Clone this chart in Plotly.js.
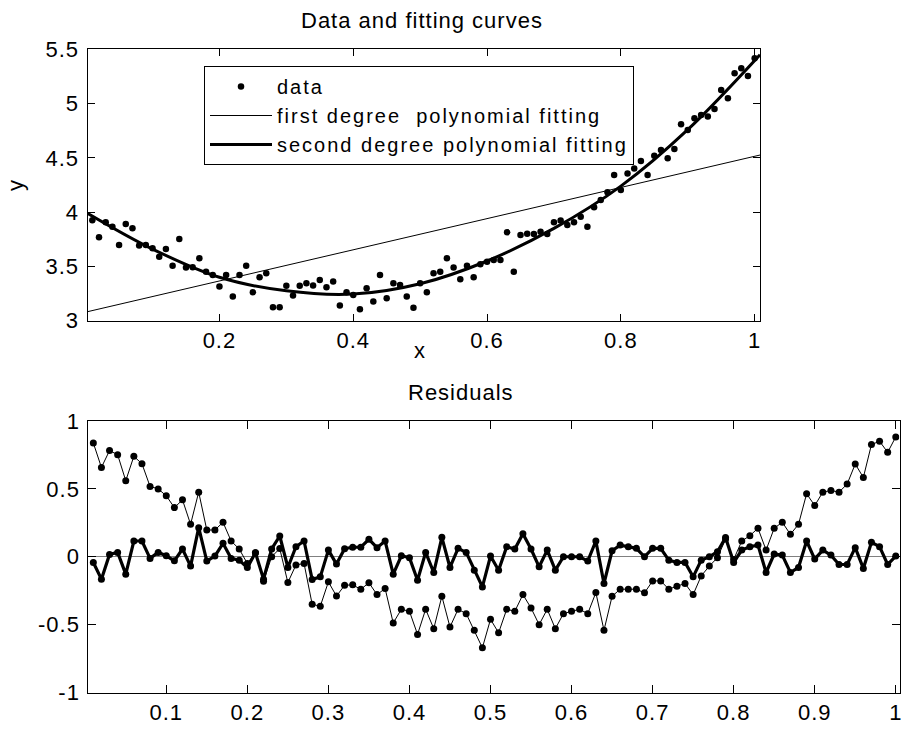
<!DOCTYPE html>
<html>
<head>
<meta charset="utf-8">
<script src="https://cdn.plot.ly/plotly-3.0.1.min.js"></script>
<style>
  html, body { margin: 0; padding: 0; background: #fff; }
  text { letter-spacing: 1px; }
  text.legendtext { letter-spacing: 2px; }
</style>
</head>
<body>
<div id="chart" style="width:901px;height:729px;"></div>
<script>
// ---- data ----
var xVals = [0.01,0.02,0.03,0.04,0.05,0.06,0.07,0.08,0.09,0.10,
             0.11,0.12,0.13,0.14,0.15,0.16,0.17,0.18,0.19,0.20,
             0.21,0.22,0.23,0.24,0.25,0.26,0.27,0.28,0.29,0.30,
             0.31,0.32,0.33,0.34,0.35,0.36,0.37,0.38,0.39,0.40,
             0.41,0.42,0.43,0.44,0.45,0.46,0.47,0.48,0.49,0.50,
             0.51,0.52,0.53,0.54,0.55,0.56,0.57,0.58,0.59,0.60,
             0.61,0.62,0.63,0.64,0.65,0.66,0.67,0.68,0.69,0.70,
             0.71,0.72,0.73,0.74,0.75,0.76,0.77,0.78,0.79,0.80,
             0.81,0.82,0.83,0.84,0.85,0.86,0.87,0.88,0.89,0.90,
             0.91,0.92,0.93,0.94,0.95,0.96,0.97,0.98,0.99,1.00];

var yData = [3.925,3.768,3.906,3.866,3.698,3.891,3.851,3.692,3.698,3.667,
             3.590,3.661,3.507,3.752,3.489,3.492,3.575,3.452,3.421,3.314,
             3.421,3.222,3.421,3.507,3.262,3.400,3.437,3.125,3.125,3.321,
             3.232,3.321,3.345,3.325,3.375,3.308,3.360,3.139,3.262,3.237,
             3.105,3.298,3.176,3.421,3.206,3.344,3.329,3.222,3.120,3.344,
             3.262,3.437,3.452,3.575,3.489,3.382,3.507,3.400,3.519,3.544,
             3.559,3.559,3.814,3.452,3.790,3.802,3.799,3.820,3.799,3.906,
             3.922,3.882,3.906,3.958,3.866,4.044,4.112,4.183,4.342,4.204,
             4.357,4.403,4.470,4.342,4.520,4.572,4.496,4.582,4.809,4.757,
             4.864,4.895,4.880,4.950,5.125,5.048,5.279,5.325,5.254,5.417];

// first degree fit (straight line, read at the axis edges)
var linFitX = [0.0028, 1.008];
var linFitY = [3.083, 4.526];

// second degree fit
var quadFitX = [0.0028,0.1,0.2,0.3,0.4,0.5,0.6,0.7,0.8,0.9,1.008];
var quadFitY = [3.99,3.66,3.40,3.275,3.245,3.34,3.55,3.85,4.24,4.76,5.45];

// residuals of the first degree fit (thin line)
var resLin = [0.838,0.658,0.782,0.752,0.560,0.740,0.685,0.518,0.500,0.449,
              0.362,0.419,0.239,0.476,0.197,0.197,0.254,0.116,0.057,-0.050,
              0.030,-0.180,0.000,0.060,-0.190,-0.060,-0.050,-0.350,-0.365,-0.185,
              -0.290,-0.210,-0.207,-0.240,-0.192,-0.279,-0.234,-0.488,-0.387,-0.402,
              -0.572,-0.387,-0.530,-0.291,-0.518,-0.387,-0.419,-0.542,-0.671,-0.461,
              -0.560,-0.387,-0.402,-0.279,-0.377,-0.500,-0.387,-0.530,-0.419,-0.402,
              -0.387,-0.419,-0.264,-0.542,-0.291,-0.239,-0.239,-0.239,-0.266,-0.178,
              -0.178,-0.239,-0.217,-0.197,-0.279,-0.141,-0.069,-0.007,0.130,-0.020,
              0.116,0.155,0.210,0.049,0.210,0.254,0.165,0.239,0.464,0.377,
              0.476,0.488,0.476,0.535,0.683,0.584,0.826,0.851,0.769,0.883];

// residuals of the second degree fit (thick line)
var resQuad = [-0.042,-0.165,0.017,0.032,-0.128,0.116,0.116,-0.012,0.032,0.007,
               -0.030,0.057,-0.069,0.214,-0.032,0.005,0.099,-0.012,-0.025,-0.080,
               0.030,-0.165,0.057,0.153,-0.079,0.074,0.116,-0.168,-0.148,0.049,
               -0.054,0.059,0.070,0.070,0.128,0.067,0.116,-0.128,0.007,-0.007,
               -0.173,0.032,-0.116,0.143,-0.079,0.062,0.032,-0.099,-0.222,0.005,
               -0.099,0.074,0.057,0.170,0.057,-0.074,0.049,-0.099,0.000,0.000,
               0.000,-0.032,0.116,-0.197,0.044,0.086,0.074,0.062,0.000,0.062,
               0.062,-0.025,-0.042,-0.042,-0.148,-0.025,0.000,0.037,0.141,-0.042,
               0.049,0.074,0.086,-0.116,0.020,0.012,-0.116,-0.079,0.116,-0.017,
               0.049,0.012,-0.057,-0.057,0.067,-0.086,0.106,0.074,-0.057,0.005];

var topXTicks = [0.2,0.4,0.6,0.8,1];
var topXTickText = ['0.2','0.4','0.6','0.8','1'];
var topYTicks = [3,3.5,4,4.5,5,5.5];
var topYTickText = ['3','3.5','4','4.5','5','5.5'];
var botXTicks = [0.1,0.2,0.3,0.4,0.5,0.6,0.7,0.8,0.9,1];
var botXTickText = ['0.1','0.2','0.3','0.4','0.5','0.6','0.7','0.8','0.9','1'];
var botYTicks = [-1,-0.5,0,0.5,1];
var botYTickText = ['-1','-0.5','0','0.5','1'];

var legendNames = ['data','first degree\u00A0 polynomial fitting','second degree polynomial fitting'];
var titleTop = 'Data and fitting curves';
var titleBottom = 'Residuals';
var xTitle = 'x';
var yTitle = 'y';

// ---- drawing ----
var W = 901, H = 729;
var FONT = 'Liberation Sans, Arial, Helvetica, sans-serif';

var traces = [
  {x: xVals, y: yData, type: 'scatter', mode: 'markers', name: legendNames[0],
   marker: {color: '#000', size: 6.5}, xaxis: 'x', yaxis: 'y'},
  {x: linFitX, y: linFitY, type: 'scatter', mode: 'lines', name: legendNames[1],
   line: {color: '#000', width: 1}, xaxis: 'x', yaxis: 'y'},
  {x: quadFitX, y: quadFitY, type: 'scatter', mode: 'lines', name: legendNames[2],
   line: {color: '#000', width: 3, shape: 'spline', smoothing: 1}, xaxis: 'x', yaxis: 'y'},
  {x: xVals, y: resLin, type: 'scatter', mode: 'lines+markers', showlegend: false,
   line: {color: '#000', width: 1}, marker: {color: '#000', size: 7}, xaxis: 'x2', yaxis: 'y2'},
  {x: xVals, y: resQuad, type: 'scatter', mode: 'lines+markers', showlegend: false,
   line: {color: '#000', width: 3.2}, marker: {color: '#000', size: 7}, xaxis: 'x2', yaxis: 'y2'}
];

function axisBase(extra) {
  var a = {
    showline: true, linecolor: '#000', linewidth: 1, mirror: 'ticks',
    ticks: 'inside', tickcolor: '#000', tickwidth: 1,
    showgrid: false, zeroline: false, tickmode: 'array',
    ticklabeloverflow: 'allow',
    tickfont: {family: FONT, size: 22, color: '#000'}, fixedrange: true
  };
  for (var k in extra) a[k] = extra[k];
  return a;
}

var layout = {
  width: W, height: H, autosize: false,
  margin: {l: 0, r: 0, t: 0, b: 0, pad: 0},
  paper_bgcolor: '#fff', plot_bgcolor: '#fff',
  font: {family: FONT, size: 22, color: '#000'},
  showlegend: true,
  legend: {
    x: 204 / W, y: 1 - 66 / H, xanchor: 'left', yanchor: 'top',
    bgcolor: '#fff', bordercolor: '#000', borderwidth: 1,
    font: {family: FONT, size: 20, color: '#000'},
    itemwidth: 62, tracegroupgap: 0,
    entrywidth: 441, entrywidthmode: 'pixels'
  },
  xaxis: axisBase({
    domain: [87.5 / W, 760 / W], range: [0.0028, 1.008], anchor: 'y',
    tickvals: topXTicks, ticktext: topXTickText, ticklen: 7
  }),
  yaxis: axisBase({
    domain: [1 - 320.7 / H, 1 - 49.3 / H], range: [3, 5.5], anchor: 'x',
    tickvals: topYTicks, ticktext: topYTickText, ticklen: 7, ticklabelstandoff: 3,
    title: {text: yTitle, font: {family: FONT, size: 22, color: '#000'}, standoff: 15}
  }),
  xaxis2: axisBase({
    domain: [88.3 / W, 899.5 / W], range: [0.0038, 1.0046], anchor: 'y2',
    tickvals: botXTicks, ticktext: botXTickText, ticklen: 8
  }),
  yaxis2: axisBase({
    domain: [1 - 692.5 / H, 1 - 421 / H], range: [-1, 1], anchor: 'x2',
    tickvals: botYTicks, ticktext: botYTickText, ticklen: 8, ticklabelstandoff: 3,
    zeroline: true, zerolinecolor: '#808080', zerolinewidth: 1
  }),
  annotations: [
    {text: titleTop, xref: 'paper', yref: 'paper', x: 421.7 / W, y: 1 - 20 / H,
     xanchor: 'center', yanchor: 'middle', showarrow: false,
     font: {family: FONT, size: 22, color: '#000'}},
    {text: titleBottom, xref: 'paper', yref: 'paper', x: 460.5 / W, y: 1 - 392 / H,
     xanchor: 'center', yanchor: 'middle', showarrow: false,
     font: {family: FONT, size: 22, color: '#000'}},
    {text: xTitle, xref: 'paper', yref: 'paper', x: 419.5 / W, y: 1 - 350 / H,
     xanchor: 'center', yanchor: 'middle', showarrow: false,
     font: {family: FONT, size: 22, color: '#000'}}
  ]
};

Plotly.newPlot('chart', traces, layout, {displayModeBar: false, staticPlot: true});
</script>
</body>
</html>
